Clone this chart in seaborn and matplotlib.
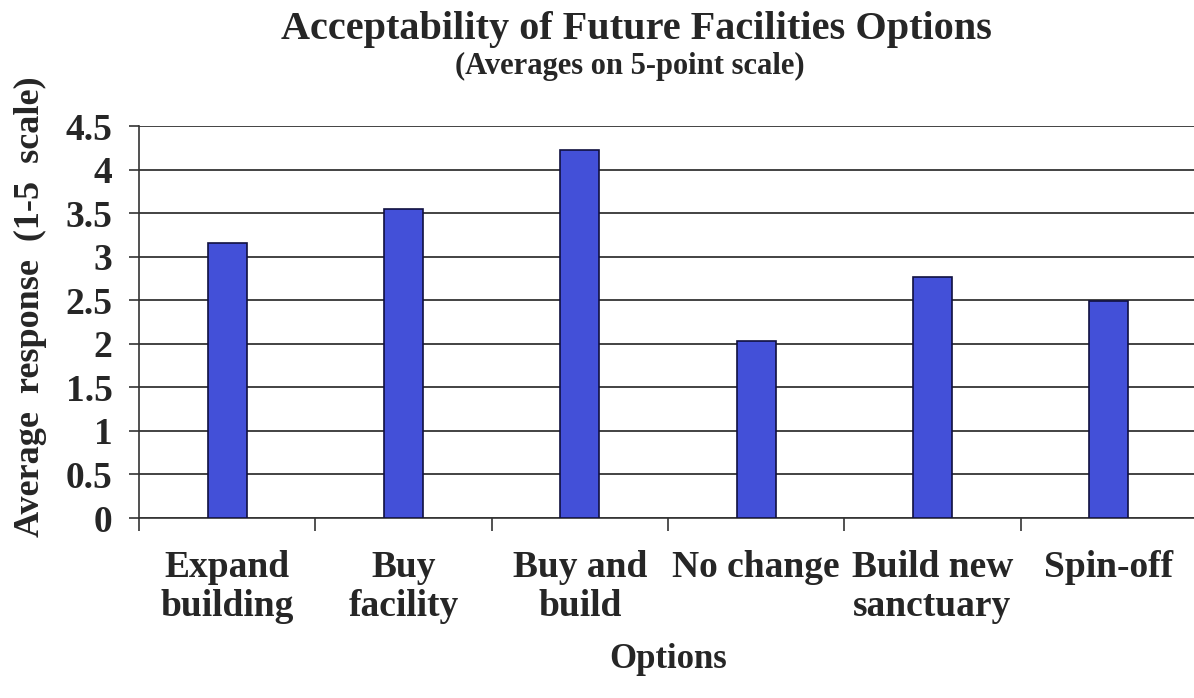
import matplotlib
matplotlib.use("Agg")
import matplotlib.pyplot as plt
import seaborn as sns
import pandas as pd

categories = ["Expand\nbuilding", "Buy\nfacility", "Buy and\nbuild", "No change", "Build new\nsanctuary", "Spin-off"]
values = [3.16, 3.55, 4.22, 2.03, 2.77, 2.49]
yticks = [0, 0.5, 1, 1.5, 2, 2.5, 3, 3.5, 4, 4.5]
ytick_labels = ["0", "0.5", "1", "1.5", "2", "2.5", "3", "3.5", "4", "4.5"]

sns.set_theme(style="white")
plt.rcParams["font.family"] = ["Liberation Serif", "DejaVu Serif"]

df = pd.DataFrame({"Option": categories, "Value": values})

fig = plt.figure(figsize=(11.94, 6.98), dpi=100)
ax = fig.add_axes([139/1194, 1-518/698, 1058/1194, (518-126)/698])

sns.barplot(data=df, x="Option", y="Value", ax=ax, color="#4350D8",
            saturation=1, width=0.22, edgecolor="#101040", linewidth=1.2, zorder=3)

ax.set_ylim(0, 4.5)
ax.set_xlim(-0.5, 5.5)
ax.set_yticks(yticks)
ax.set_yticklabels(ytick_labels, fontsize=27, fontweight="bold")
ax.yaxis.grid(True, color="#222222", linewidth=1.2, zorder=0)
ax.set_axisbelow(True)

# category boundary ticks
ax.set_xticks([i + 0.5 for i in range(-1, 6)], minor=False)
ax.set_xticklabels([])
ax.set_xticks(range(len(categories)), minor=True)
ax.set_xticklabels(categories, minor=True, fontsize=27, fontweight="bold", linespacing=1.15)
ax.tick_params(axis="x", which="major", direction="out", length=9, width=1.2, color="#333333", bottom=True)
ax.tick_params(axis="x", which="minor", length=0, pad=23)
ax.tick_params(axis="y", direction="out", length=7, width=1.2, color="#333333", left=True, pad=12)

for s in ["top", "right"]:
    ax.spines[s].set_visible(False)
ax.spines["left"].set_color("#333333")
ax.spines["bottom"].set_color("#333333")
ax.spines["left"].set_linewidth(1.2)
ax.spines["bottom"].set_linewidth(1.2)

ax.set_xlabel("Options", fontsize=25, fontweight="bold", labelpad=14)
ax.set_ylabel("Average  response  (1-5  scale)", fontsize=26, fontweight="bold")
ax.yaxis.set_label_coords(-0.087, 0.54)

fig.text(636/1194, 1-30/698, "Acceptability of Future Facilities Options",
         ha="center", va="center", fontsize=29, fontweight="bold")
fig.text(630/1194, 1-66/698, "(Averages on 5-point scale)",
         ha="center", va="center", fontsize=22, fontweight="bold")

fig.savefig("out.png", dpi=100)
